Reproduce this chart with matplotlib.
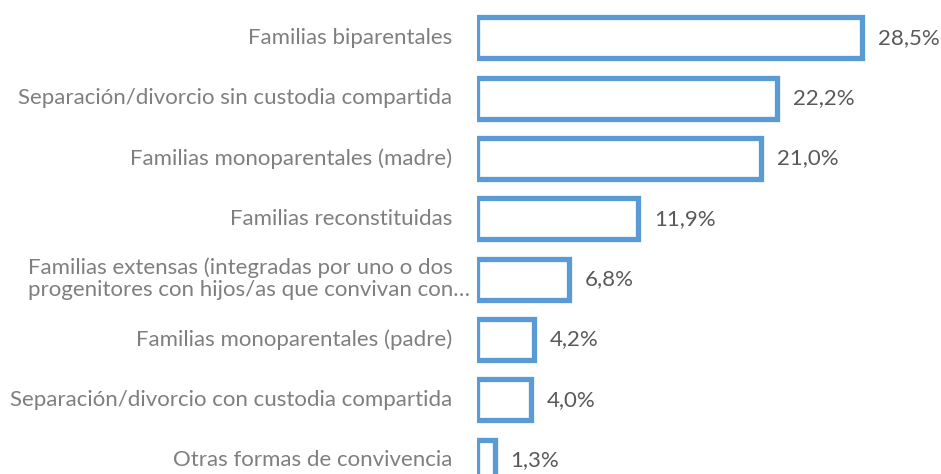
import matplotlib

matplotlib.use("Agg")
import matplotlib.pyplot as plt
import matplotlib.transforms as mtransforms

# datos del gráfico (porcentaje por tipo de convivencia)
categorias = [
    "Familias biparentales",
    "Separación/divorcio sin custodia compartida",
    "Familias monoparentales (madre)",
    "Familias reconstituidas",
    "Familias extensas (integradas por uno o dos\nprogenitores con hijos/as que convivan con…",
    "Familias monoparentales (padre)",
    "Separación/divorcio con custodia compartida",
    "Otras formas de convivencia",
]
valores = [28.5, 22.2, 21.0, 11.9, 6.8, 4.2, 4.0, 1.3]
etiquetas = ["28,5%", "22,2%", "21,0%", "11,9%", "6,8%", "4,2%", "4,0%", "1,3%"]

AZUL = "#5B9BD5"
GRIS_CAT = "#7F7F7F"
GRIS_VAL = "#595959"
FUENTE = "Lato"
TAM = 16

W, H = 941, 474
X0 = 477.0
fig = plt.figure(figsize=(W / 100, H / 100), dpi=100)
ax = fig.add_axes([X0 / W, 0, 1 - X0 / W, 1])

pos = list(range(len(categorias)))
ax.barh(pos, valores, height=0.68, color="white", edgecolor=AZUL, linewidth=3.8)

ax.set_xlim(0, (W - X0) / 13.51)
ax.set_ylim(7.232, -0.630)
ax.axis("off")

izq = mtransforms.offset_copy(ax.transData, fig=fig, x=-25, y=0, units="dots")
der = mtransforms.offset_copy(ax.transData, fig=fig, x=16, y=0, units="dots")

for i, (cat, v, et) in enumerate(zip(categorias, valores, etiquetas)):
    if "\n" in cat:
        ax.text(28 / W, 1 - (279 / H), cat, transform=fig.transFigure,
                ha="left", va="center", ma="left", color=GRIS_CAT,
                family=FUENTE, fontsize=TAM, linespacing=1.1)
    else:
        ax.text(0, i, cat, transform=izq, ha="right", va="center",
                color=GRIS_CAT, family=FUENTE, fontsize=TAM)
    ax.text(v, i, et, transform=der, ha="left", va="center",
            color=GRIS_VAL, family=FUENTE, fontsize=TAM)

fig.savefig("out.png", dpi=100)
plt.close(fig)
